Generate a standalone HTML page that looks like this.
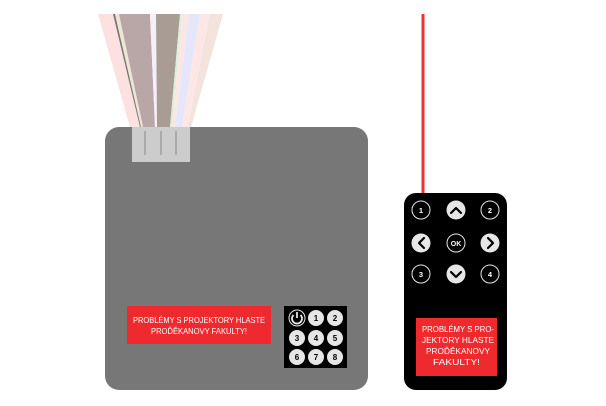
<!DOCTYPE html>
<html><head><style>body{margin:0;background:#fff}svg{display:block}text{font-family:"Liberation Sans",sans-serif;font-weight:bold}.l{font-weight:normal}</style></head><body>
<svg width="606" height="406" viewBox="0 0 606 406" xmlns="http://www.w3.org/2000/svg">
<!-- wires -->
<polygon points="98,14 113,14 140,127 130,127" fill="#fde0e0"/>
<polygon points="113,14 115,14 141,127 140,127" fill="#777"/>
<polygon points="115,14 119,14 143,127 141,127" fill="#f0e4d4"/>
<polygon points="119,14 150,14 155,127 143,127" fill="#b9a6a6"/>
<polygon points="150,14 156,14 157,127 155,127" fill="#f6eef8"/>
<polygon points="156,14 180,14 170,127 157,127" fill="#a89c94"/>
<polygon points="180,14 182,14 172,127 170,127" fill="#d8f0d8"/>
<polygon points="182,14 189,14 175,127 172,127" fill="#fbe6e6"/>
<polygon points="189,14 200,14 182,127 175,127" fill="#e6e6fa"/>
<polygon points="200,14 210,14 188,127 182,127" fill="#fde6e6"/>
<polygon points="210,14 223,14 191,127 188,127" fill="#f4e2dc"/>
<!-- projector -->
<rect x="105" y="127" width="263" height="263" rx="14" fill="#777"/>
<rect x="132" y="127" width="58" height="35" fill="#ccc"/>
<g stroke="#aaa" stroke-width="2"><line x1="145" y1="131" x2="145" y2="155"/><line x1="161" y1="131" x2="161" y2="155"/><line x1="176" y1="131" x2="176" y2="155"/></g>
<rect x="127" y="306" width="144" height="38" fill="#ee2a2e"/>
<g class="l" fill="#fff" font-size="8.5" lengthAdjust="spacingAndGlyphs">
<text class="l" x="133" y="323" textLength="132" lengthAdjust="spacingAndGlyphs">PROBLÉMY S PROJEKTORY HLASTE</text>
<text class="l" x="151" y="334" textLength="96" lengthAdjust="spacingAndGlyphs">PROĎĚKANOVY FAKULTY!</text>
</g>
<rect x="284" y="306" width="63" height="62" fill="#000"/>
<g fill="#e6e6e6">
<circle cx="297" cy="318" r="8" fill="none" stroke="#e6e6e6" stroke-width="1"/>
<circle cx="316" cy="318" r="8"/><circle cx="335" cy="318" r="8"/>
<circle cx="297" cy="338" r="8"/><circle cx="316" cy="338" r="8"/><circle cx="335" cy="338" r="8"/>
<circle cx="297" cy="357" r="8"/><circle cx="316" cy="357" r="8"/><circle cx="335" cy="357" r="8"/>
</g>
<path d="M293.5 315 A5 5 0 1 0 300.5 315" fill="none" stroke="#e6e6e6" stroke-width="1.8"/>
<line x1="297" y1="312" x2="297" y2="318" stroke="#e6e6e6" stroke-width="1.8"/>
<g font-size="8" fill="#000" text-anchor="middle">
<text x="316" y="321">1</text><text x="335" y="321">2</text>
<text x="297" y="341">3</text><text x="316" y="341">4</text><text x="335" y="341">5</text>
<text x="297" y="360">6</text><text x="316" y="360">7</text><text x="335" y="360">8</text>
</g>
<!-- remote -->
<line x1="423" y1="14" x2="423" y2="195" stroke="#ee3333" stroke-width="3"/>
<rect x="404" y="193" width="103" height="197" rx="12" fill="#000"/>
<g stroke="#e6e6e6" stroke-width="1" fill="none">
<circle cx="421" cy="210" r="9"/><circle cx="490" cy="210" r="9"/>
<circle cx="456" cy="243" r="9"/>
<circle cx="421" cy="274" r="9"/><circle cx="490" cy="274" r="9"/>
</g>
<g fill="#e6e6e6">
<circle cx="456" cy="210" r="9.5"/><circle cx="421" cy="243" r="9.5"/><circle cx="490" cy="243" r="9.5"/><circle cx="456" cy="274" r="9.5"/>
</g>
<g stroke="#000" stroke-width="2.2" fill="none" stroke-linecap="round" stroke-linejoin="round">
<polyline points="451,213 456,208 461,213"/>
<polyline points="451,272 456,277 461,272"/>
<polyline points="424,238 419,243 424,248"/>
<polyline points="488,238 493,243 488,248"/>
</g>
<g font-size="7.5" fill="#fff" text-anchor="middle">
<text x="421" y="213">1</text><text x="490" y="213">2</text>
<text x="456" y="246" font-size="7">OK</text>
<text x="421" y="277">3</text><text x="490" y="277">4</text>
</g>
<rect x="416" y="318" width="81" height="58" fill="#ee2a2e"/>
<g fill="#fff" font-size="8.5">
<text class="l" x="422" y="332" textLength="72" lengthAdjust="spacingAndGlyphs">PROBLÉMY S PRO-</text>
<text class="l" x="422" y="343" textLength="72" lengthAdjust="spacingAndGlyphs">JEKTORY HLASTE</text>
<text class="l" x="426" y="354" textLength="64" lengthAdjust="spacingAndGlyphs">PROĎĚKANOVY</text>
<text class="l" x="433" y="365" textLength="47" lengthAdjust="spacingAndGlyphs">FAKULTY!</text>
</g>
</svg>
</body></html>
